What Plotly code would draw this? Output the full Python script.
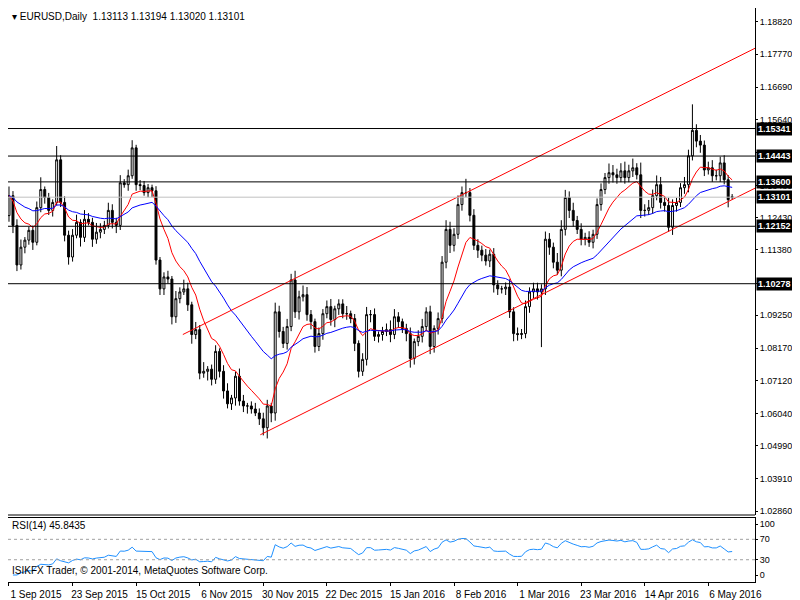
import pandas as pd
import plotly.graph_objects as go

closes = [1.1315,1.1218,1.1089,1.1147,1.1170,1.1202,1.1163,1.1276,1.1335,1.1309,
1.1267,1.1293,1.1432,1.1293,1.1186,1.1115,1.1186,1.1228,1.1179,1.1238,
1.1228,1.1173,1.1196,1.1205,1.1218,1.1267,1.1228,1.1218,1.1357,1.1351,
1.1380,1.1471,1.1351,1.1348,1.1325,1.1341,1.1331,1.1105,1.1011,1.1050,
1.1043,1.0920,1.0979,1.1001,1.1011,1.0959,1.0862,1.0878,1.0736,1.0742,
1.0749,1.0716,1.0807,1.0742,1.0678,1.0636,1.0655,1.0726,1.0645,1.0629,
1.0629,1.0619,1.0606,1.0587,1.0558,1.0629,1.0606,1.0936,1.0872,1.0833,
1.0888,1.1040,1.0936,1.0985,1.0992,1.0927,1.0904,1.0823,1.0865,1.0930,
1.0953,1.0911,1.0946,1.0962,1.0930,1.0930,1.0914,1.0833,1.0742,1.0781,
1.0927,1.0927,1.0856,1.0862,1.0872,1.0878,1.0862,1.0920,1.0904,1.0882,
1.0865,1.0784,1.0839,1.0856,1.0888,1.0936,1.0823,1.0882,1.0914,1.1098,
1.1205,1.1153,1.1189,1.1286,1.1325,1.1325,1.1251,1.1153,1.1137,1.1121,
1.1102,1.1124,1.1024,1.1011,1.1011,1.1017,1.0936,1.0865,1.0862,1.0865,
1.0953,1.1001,1.1011,1.1001,1.1011,1.1173,1.1147,1.1098,1.1072,1.1205,
1.1309,1.1267,1.1234,1.1205,1.1173,1.1179,1.1163,1.1189,1.1286,1.1335,
1.1374,1.1390,1.1383,1.1374,1.1396,1.1374,1.1396,1.1406,1.1383,1.1267,
1.1267,1.1276,1.1315,1.1351,1.1293,1.1283,1.1212,1.1283,1.1293,1.1341,
1.1351,1.1445,1.1528,1.1493,1.1480,1.1399,1.1406,1.1380,1.1380,1.1422,
1.1367,1.1302,1.13101]
first_open = 1.1250
last_open = 1.13113

# wick lengths in pips (upper, lower)
upper_pips = [30,15,20,25,10,12,15,20,40,10,15,10,45,15,20,15,20,25,10,30,
20,15,30,20,15,25,20,15,25,12,20,25,10,15,15,12,10,15,10,15,
20,10,25,15,30,20,10,25,15,30,10,15,20,10,20,25,10,15,25,20,
10,15,20,15,20,20,10,30,20,15,25,20,30,20,30,25,15,10,20,15,
20,25,10,15,15,25,10,15,10,20,25,15,20,10,15,20,30,25,15,10,
15,20,10,20,25,15,20,10,20,20,30,25,20,30,20,45,15,20,20,15,
20,15,20,15,10,15,25,15,20,15,20,15,20,20,15,25,20,15,30,30,
25,20,25,15,20,15,20,15,20,20,15,30,25,20,25,30,20,30,15,40,
20,25,20,30,25,20,25,20,15,15,25,20,85,20,20,15,20,25,20,20,
25,15,9]
lower_pips = [20,25,20,15,20,15,25,10,15,20,15,20,10,15,20,25,15,10,30,15,
10,25,15,20,15,10,20,25,15,10,20,10,20,15,10,15,20,15,20,20,
15,25,20,15,10,20,30,15,20,15,30,20,15,20,25,15,20,25,15,20,
25,15,10,20,25,35,30,25,20,15,20,15,20,25,15,20,25,20,15,20,
15,20,25,20,15,20,15,25,20,15,20,25,15,20,20,15,25,15,20,15,
25,30,20,15,20,15,25,20,20,15,20,25,20,15,20,15,20,15,25,20,
15,20,25,20,15,20,20,25,20,15,15,20,20,25,180,20,25,20,15,20,
20,25,20,15,20,20,15,20,15,20,15,20,25,20,15,20,15,20,15,25,
20,15,20,15,20,20,15,25,20,15,20,25,15,20,25,20,15,20,15,20,
15,25,8]

date_labels = ["1 Sep 2015","23 Sep 2015","15 Oct 2015","6 Nov 2015","30 Nov 2015",
"22 Dec 2015","15 Jan 2016","8 Feb 2016","1 Mar 2016","23 Mar 2016","14 Apr 2016","6 May 2016"]
price_ticks = [1.18820,1.17770,1.16690,1.15640,1.14560,1.13480,1.12430,1.11380,
1.10300,1.09250,1.08170,1.07120,1.06040,1.04990,1.03910,1.02860]
levels = [1.15341,1.14443,1.13600,1.12152,1.10278]
current = 1.13101
channel_lower = ([63.25,188.0],[1.0535,1.1341])
channel_upper = ([43.75,195.0],[1.0862,1.1843])

n = len(closes)
idx = list(range(n))
opens = [first_open] + closes[:-1]
opens[-1] = last_open
highs = [max(o,c)+u/10000 for o,c,u in zip(opens,closes,upper_pips)]
lows = [min(o,c)-l/10000 for o,c,l in zip(opens,closes,lower_pips)]

s = pd.Series(closes)
ma_fast = s.ewm(span=10, adjust=False).mean()
ma_slow = s.ewm(span=30, adjust=False).mean()
d = s.diff()
up = d.clip(lower=0).ewm(alpha=1/14, adjust=False).mean()
dn = (-d.clip(upper=0)).ewm(alpha=1/14, adjust=False).mean()
rsi = 100 - 100/(1+up/dn)

FONT = "Liberation Sans"
FS = 10
AX = 9
MAIN_BOTTOM = 0.1167
RSI_TOP = 0.1115
fig = go.Figure()
fig.add_trace(go.Candlestick(x=idx, open=opens, high=highs, low=lows, close=closes,
    increasing=dict(line=dict(color="black", width=1), fillcolor="white"),
    decreasing=dict(line=dict(color="black", width=1), fillcolor="black"),
    whiskerwidth=0, showlegend=False, hoverinfo="skip"))
fig.add_trace(go.Scatter(x=idx, y=ma_fast, mode="lines", line=dict(color="red", width=1), showlegend=False))
fig.add_trace(go.Scatter(x=idx, y=ma_slow, mode="lines", line=dict(color="blue", width=1), showlegend=False))
for cx, cy in (channel_lower, channel_upper):
    fig.add_trace(go.Scatter(x=cx, y=cy, mode="lines", line=dict(color="red", width=1), showlegend=False))
fig.add_trace(go.Scatter(x=idx, y=rsi, mode="lines", line=dict(color="#1e90ff", width=1),
    xaxis="x", yaxis="y2", showlegend=False))

shapes = []
for lv in levels:
    shapes.append(dict(type="line", xref="paper", x0=0, x1=1, yref="y", y0=lv, y1=lv, line=dict(color="black", width=1)))
shapes.append(dict(type="line", xref="paper", x0=0, x1=1, yref="y", y0=current, y1=current, line=dict(color="#c0c0c0", width=1)))
for lv in (70, 30):
    shapes.append(dict(type="line", xref="paper", x0=0, x1=1, yref="y2", y0=lv, y1=lv, line=dict(color="#a0a0a0", width=1, dash="dot")))
shapes.append(dict(type="line", xref="paper", x0=0, x1=1, yref="paper", y0=MAIN_BOTTOM, y1=MAIN_BOTTOM, line=dict(color="black", width=1)))

ann = []
for lv in levels + [current]:
    ann.append(dict(xref="paper", x=1.0, xanchor="left", xshift=1, yref="y", y=lv, text=f"<b>{lv:.5f}</b>",
        showarrow=False, bgcolor="black", font=dict(color="white", size=AX, family=FONT), borderpad=1))
ann.append(dict(xref="paper", x=0, xanchor="left", xshift=2, yref="paper", y=1, yanchor="top", yshift=-1,
    text="▾ EURUSD,Daily  1.13113 1.13194 1.13020 1.13101", showarrow=False, font=dict(size=FS, family=FONT, color="black")))
ann.append(dict(xref="paper", x=0, xanchor="left", xshift=2, yref="y2", y=111, yanchor="top",
    text="RSI(14) 45.8435", showarrow=False, font=dict(size=FS, family=FONT, color="black")))
ann.append(dict(xref="paper", x=0, xanchor="left", xshift=2, yref="y2", y=-6, yanchor="bottom",
    text="ISIKFX Trader, © 2001-2014, MetaQuotes Software Corp.", showarrow=False, font=dict(size=FS, family=FONT, color="black")))

fig.update_layout(
    width=792, height=592, margin=dict(l=0, r=45, t=0, b=18, autoexpand=False),
    paper_bgcolor="white", plot_bgcolor="white",
    font=dict(family=FONT, size=FS, color="black"),
    shapes=shapes, annotations=ann, hovermode=False,
    xaxis=dict(range=[-0.25, 187.75], rangeslider=dict(visible=False), showgrid=False, zeroline=False,
        tickmode="array", tickvals=[16*k for k in range(len(date_labels))], ticktext=date_labels,
        tickangle=0, ticklabelshift=27, automargin=False, tickfont=dict(size=FS),
        ticks="outside", ticklen=3, tickcolor="black", showline=True, linecolor="black", mirror=True,
        anchor="y2"),
    yaxis=dict(domain=[MAIN_BOTTOM, 1], range=[1.02732, 1.19273], side="right", showgrid=False, zeroline=False,
        tickmode="array", tickvals=price_ticks, ticktext=[f"{t:.5f}" for t in price_ticks], automargin=False,
        tickfont=dict(size=AX), ticklabelstandoff=0,
        ticks="outside", ticklen=2, tickcolor="black", showline=True, linecolor="black", mirror=True),
    yaxis2=dict(domain=[0, RSI_TOP], range=[-13.7, 111.8], side="right", showgrid=False, zeroline=False,
        tickmode="array", tickvals=[100, 70, 30, 0], ticks="outside", ticklen=2, tickcolor="black", automargin=False,
        tickfont=dict(size=AX), showline=True, linecolor="black", mirror=True),
)
fig.write_html("out.html")
